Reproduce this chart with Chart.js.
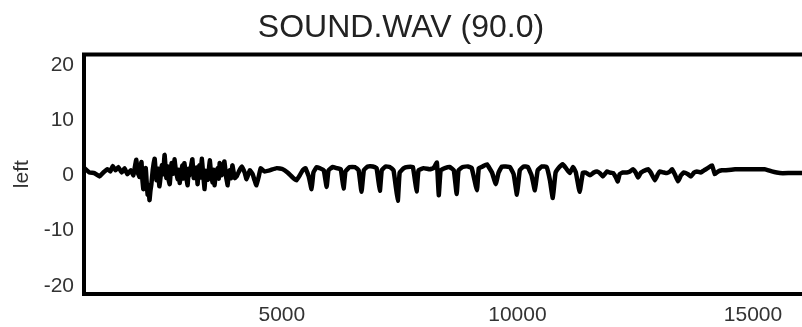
<!DOCTYPE html>
<html>
<head>
<meta charset="utf-8">
<script src="https://cdn.jsdelivr.net/npm/chart.js@4/dist/chart.umd.min.js"></script>
<style>
  html, body { margin: 0; padding: 0; background: #fff; overflow: hidden; }
</style>
</head>
<body>
<canvas id="wave" width="802" height="327"></canvas>
<script>
// sample index and left channel amplitude
const sampleIndex = [
  810, 920, 1020, 1130, 1210, 1300, 1360, 1410, 1470, 1530, 1600, 1660, 1720, 1790, 1850,
  1880, 1910, 1940, 1980, 2000, 2020, 2040, 2060, 2085, 2110, 2130, 2150, 2170, 2190, 2210,
  2230, 2260, 2280, 2300, 2320, 2340, 2370, 2400, 2425, 2450, 2480, 2510, 2530, 2550, 2580,
  2600, 2620, 2640, 2660, 2690, 2720, 2750, 2790, 2810, 2830, 2860, 2890, 2910, 2930, 2960,
  3000, 3020, 3040, 3070, 3100, 3130, 3170, 3190, 3210, 3230, 3250, 3275, 3300, 3330, 3360,
  3380, 3400, 3430, 3470, 3500, 3530, 3550, 3570, 3600, 3640, 3660, 3680, 3700, 3720, 3750,
  3780, 3815, 3850, 3870, 3890, 3920, 3950, 3975, 4000, 4040, 4100, 4150, 4210,
  4250, 4320, 4380, 4420, 4460, 4510, 4550, 4630, 4740, 4890, 5020, 5120, 5230, 5310, 5380,
  5440, 5500, 5570, 5630, 5670, 5740, 5800, 5890, 5950, 5990, 6080, 6160, 6250, 6310, 6350,
  6440, 6550, 6630, 6690, 6740, 6820, 6930, 7010, 7080, 7120, 7200, 7290, 7370, 7460, 7500,
  7590, 7670, 7780, 7860, 7900, 8010, 8140, 8220, 8290, 8330, 8370, 8460, 8560, 8650, 8710,
  8750, 8840, 8950, 9030, 9140, 9180, 9260, 9350, 9460, 9540, 9600, 9670, 9750, 9840, 9920,
  9990, 10050, 10130, 10220, 10300, 10370, 10430, 10520, 10620, 10690, 10750, 10810, 10900, 10960, 11030,
  11110, 11180, 11240, 11320, 11390, 11450, 11540, 11620, 11690, 11750, 11810, 11900, 11960, 12030, 12090,
  12130, 12170, 12240, 12320, 12390, 12450, 12510, 12560, 12620, 12660, 12770, 12830, 12920, 12980, 13020,
  13110, 13170, 13240, 13280, 13340, 13410, 13470, 13530, 13620, 13680, 13750, 13810, 13890, 13960, 14040,
  14130, 14190, 14260, 14340, 14400, 14620, 14830, 15040, 15250, 15400, 15570, 15780, 16040
];
const leftChannel = [
  1.3, 0.5, 0.4, -0.2, 0.5, 1.1, 0.7, 1.7, 0.9, 1.5, 0.5, 1.3, 0.2, 0.9, 0.0,
  1.5, 2.8, 0.5, -0.3, 1.6, 2.4, -0.8, -2.5, 0.4, 1.3, -1.2, -3.5, -2.0, -4.5, -2.8,
  -1.6, 1.0, 2.2, 3.0, 0.8, -0.9, 1.2, -2.0, -0.3, 1.8, 0.2, 3.7, 1.5, -0.5, 1.6,
  -1.0, -1.6, 0.6, 2.2, 0.3, 2.9, 0.8, -0.7, 1.0, -1.4, 0.4, 1.8, -0.6, 2.2, 0.2,
  -1.8, 1.2, 0.0, 1.5, 2.9, -0.5, 0.0, 1.4, -1.6, 0.6, 1.8, -0.4, 3.0, 0.2, -2.5,
  0.8, 0.5, -0.8, 2.7, 0.0, -1.3, 1.0, -1.8, 0.4, 1.3, -0.6, 2.2, 0.3, 0.0, 1.4,
  2.5, -0.2, -1.8, 0.4, 0.9, -0.5, 1.8, 0.6, -0.5, -0.2, 0.9, 1.6, 0.5,
  -0.7, 0.9, 0.2, -0.9, -1.8, -0.2, 1.3, 0.7, 0.9, 1.3, 1.1, 0.5, -0.4, -0.9, 0.0,
  0.9, 1.3, -0.2, -2.5, 0.5, 1.5, 1.3, 0.9, -2.1, 0.9, 1.5, 1.3, 1.1, -2.4, 0.7,
  1.5, 1.5, 0.9, -3.0, 0.9, 1.6, 1.6, 1.3, -2.8, 0.9, 1.6, 1.5, 0.9, -4.6, 0.5,
  1.3, 1.5, 1.5, -2.9, 0.9, 1.3, 1.1, 1.3, 2.3, -3.6, 0.9, 1.3, 1.5, 0.9, -3.4,
  0.9, 1.5, 1.6, 1.3, -2.7, 1.3, 1.6, 2.0, 0.5, -1.6, 0.5, 1.6, 1.6, 1.5, 0.2,
  -3.5, 0.9, 1.6, 1.5, 0.0, -2.7, 0.9, 1.6, 1.5, -0.9, -4.1, 0.5, 1.6, 2.0, 1.3,
  0.4, 1.5, 0.5, -3.0, 0.5, 0.5, 0.0, 0.5, 0.7, 0.4, -0.2, 0.7, 0.5, 0.4, -0.4,
  -1.1, 0.2, 0.5, 0.5, 0.7, 1.1, 0.5, -0.4, 0.5, 0.7, 1.1, 0.5, -0.9, 0.2, 0.7,
  0.5, 0.4, 0.7, 1.1, 0.2, -1.1, 0.0, 0.5, 0.2, -0.2, 0.5, 0.7, 0.5, 0.9, 1.3,
  1.8, 0.2, 0.7, 0.9, 0.9, 1.1, 1.1, 1.1, 1.1, 0.7, 0.4, 0.4, 0.4
];
const yTicks = [-20, -10, 0, 10, 20];
const xTicks = [5000, 10000, 15000];

var points = sampleIndex.map(function (x, i) {
  return { x: x, y: leftChannel[i] };
});

// black frame on left, top and bottom (no right edge in the original)
const framePlugin = {
  id: "frame",
  afterDatasetsDraw: function (chart) {
    var a = chart.chartArea;
    var ctx = chart.ctx;
    ctx.save();
    ctx.strokeStyle = "#000";
    ctx.lineWidth = 4;
    ctx.beginPath();
    ctx.moveTo(chart.width, a.top);
    ctx.lineTo(a.left, a.top);
    ctx.lineTo(a.left, a.bottom);
    ctx.lineTo(chart.width, a.bottom);
    ctx.stroke();
    ctx.restore();
  }
};

var ctx = document.getElementById("wave").getContext("2d");
var waveChart = new Chart(ctx, {
  type: "line",
  data: {
    datasets: [
      {
        label: "left",
        data: points,
        borderColor: "#000",
        borderWidth: 4.5,
        borderJoinStyle: "round",
        pointRadius: 0,
        tension: 0.1,
        fill: false
      }
    ]
  },
  options: {
    responsive: false,
    animation: false,
    devicePixelRatio: 1,
    layout: { padding: 0 },
    plugins: {
      legend: { display: false },
      tooltip: { enabled: false },
      title: {
        display: true,
        text: "SOUND.WAV (90.0)",
        color: "#222",
        font: { family: "Liberation Sans", size: 32, weight: "normal" },
        padding: { top: 9, bottom: 7 }
      }
    },
    scales: {
      x: {
        type: "linear",
        min: 800,
        max: 16040,
        grid: { display: false, drawTicks: false },
        border: { display: false },
        afterBuildTicks: function (scale) {
          scale.ticks = xTicks.map(function (v) { return { value: v }; });
        },
        afterFit: function (scale) { scale.height = 33; },
        ticks: {
          color: "#333",
          padding: 9,
          maxRotation: 0,
          font: { family: "Liberation Sans", size: 21 },
          callback: function (value) { return String(value); }
        }
      },
      y: {
        min: -21.5,
        max: 21.9,
        grid: { display: false, drawTicks: false },
        border: { display: false },
        afterBuildTicks: function (scale) {
          scale.ticks = yTicks.map(function (v) { return { value: v }; });
        },
        afterFit: function (scale) { scale.width = 84; },
        title: {
          display: true,
          text: "left",
          color: "#333",
          padding: { top: 10, bottom: 0 },
          font: { family: "Liberation Sans", size: 21 }
        },
        ticks: {
          color: "#333",
          padding: 10,
          font: { family: "Liberation Sans", size: 21 },
          callback: function (value) { return String(value); }
        }
      }
    }
  },
  plugins: [framePlugin]
});
</script>
</body>
</html>
